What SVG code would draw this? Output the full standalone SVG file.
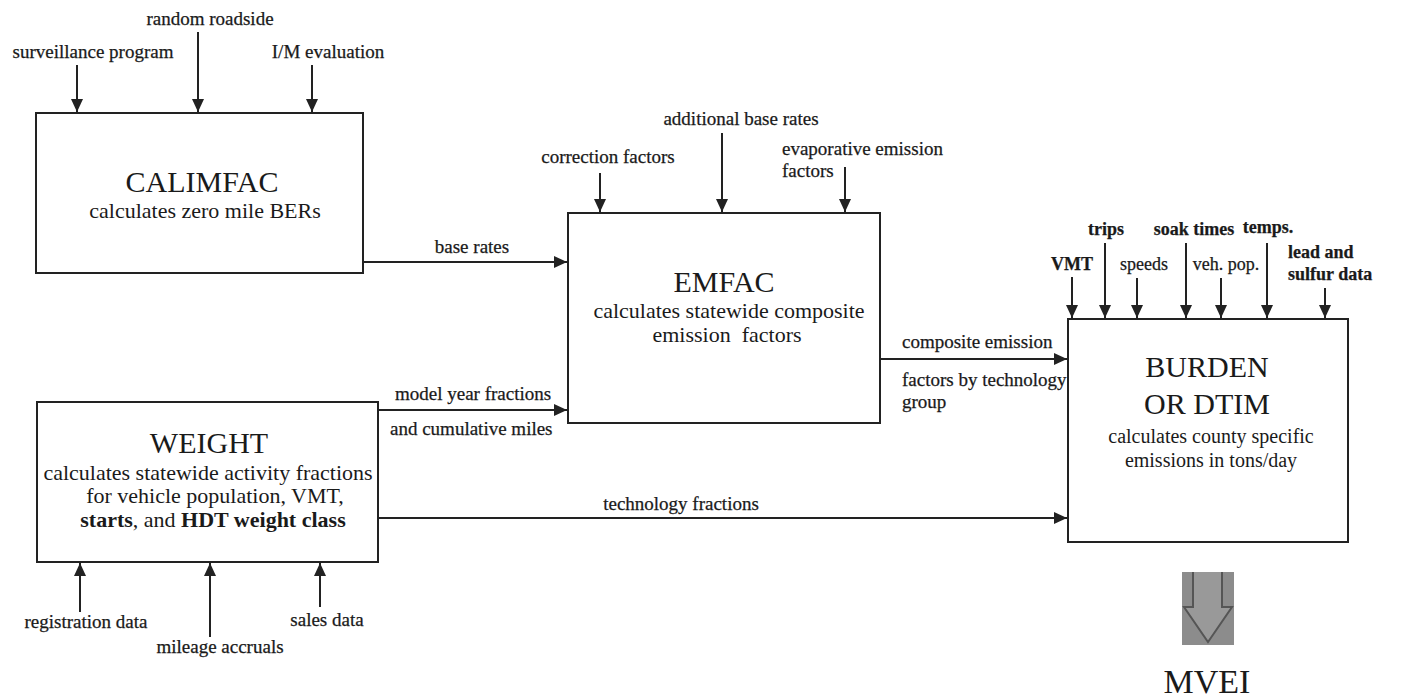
<svg xmlns="http://www.w3.org/2000/svg" width="1426" height="698" viewBox="0 0 1426 698">
<defs>
<marker id="ah" markerUnits="userSpaceOnUse" markerWidth="14" markerHeight="12" refX="13" refY="6" orient="auto">
<path d="M0,0 L13,6 L0,12 Z" fill="#222"/>
</marker>
<style>
.box{fill:#fff;stroke:#222;stroke-width:2}
.c{stroke:#222;stroke-width:2;fill:none;marker-end:url(#ah)}
text{font-family:"Liberation Serif","Times New Roman",serif;fill:#1a1a1a}
.t{font-size:30px;text-anchor:middle}
.s{font-size:22px;text-anchor:middle}
.l{font-size:19px;stroke:#1a1a1a;stroke-width:0.25}
.m{text-anchor:middle}
.sm{font-size:18px;stroke:#1a1a1a;stroke-width:0.25}
.b{font-weight:bold}
</style>
</defs>
<rect width="1426" height="698" fill="#fff"/>

<g id="connectors">
<line class="c" x1="77" y1="65" x2="77" y2="112"/>
<line class="c" x1="198" y1="32" x2="198" y2="112"/>
<line class="c" x1="312" y1="65" x2="312" y2="112"/>
<line class="c" x1="600" y1="173" x2="600" y2="212"/>
<line class="c" x1="722" y1="133" x2="722" y2="212"/>
<line class="c" x1="845" y1="167" x2="845" y2="212"/>
<line class="c" x1="363" y1="262" x2="567" y2="262"/>
<line class="c" x1="378" y1="410" x2="567" y2="410"/>
<line class="c" x1="880" y1="359" x2="1067" y2="359"/>
<line class="c" x1="378" y1="518" x2="1067" y2="518"/>
<line class="c" x1="80" y1="612" x2="80" y2="563"/>
<line class="c" x1="210" y1="637" x2="210" y2="563"/>
<line class="c" x1="320" y1="607" x2="320" y2="563"/>
<line class="c" x1="1072" y1="277" x2="1072" y2="318"/>
<line class="c" x1="1105" y1="243" x2="1105" y2="318"/>
<line class="c" x1="1137" y1="278" x2="1137" y2="318"/>
<line class="c" x1="1186" y1="243" x2="1186" y2="318"/>
<line class="c" x1="1221" y1="278" x2="1221" y2="318"/>
<line class="c" x1="1267" y1="243" x2="1267" y2="318"/>
<line class="c" x1="1325" y1="288" x2="1325" y2="318"/>
</g>

<g id="labels">
<text class="l m" x="93" y="58">surveillance program</text>
<text class="l m" x="210" y="25">random roadside</text>
<text class="l m" x="328" y="58">I/M evaluation</text>
<text class="l m" x="608" y="163">correction factors</text>
<text class="l m" x="741" y="125">additional base rates</text>
<text class="l" x="782" y="155">evaporative emission</text>
<text class="l" x="782" y="177">factors</text>
<text class="l m" x="472" y="253">base rates</text>
<text class="l" x="395" y="400">model year fractions</text>
<text class="l" x="390" y="435">and cumulative miles</text>
<text class="l m" x="681" y="510">technology fractions</text>
<text class="l" x="902" y="348">composite emission</text>
<text class="l" x="902" y="386">factors by technology</text>
<text class="l" x="902" y="408">group</text>
<text class="l m" x="86" y="628">registration data</text>
<text class="l m" x="220" y="653">mileage accruals</text>
<text class="l m" x="327" y="626">sales data</text>
<text class="sm m b" x="1072" y="270">VMT</text>
<text class="sm m b" x="1106" y="235">trips</text>
<text class="sm m" x="1144" y="270">speeds</text>
<text class="sm m b" x="1194" y="235">soak times</text>
<text class="sm m" x="1226" y="270">veh. pop.</text>
<text class="sm m b" x="1268" y="233">temps.</text>
<text class="sm b" x="1288" y="258">lead and</text>
<text class="sm b" x="1288" y="280">sulfur data</text>
</g>

<g id="calimfac">
<rect class="box" x="36" y="113" width="327" height="160"/>
<text class="t" x="202" y="192">CALIMFAC</text>
<text class="s" x="205" y="218">calculates zero mile BERs</text>
</g>

<g id="emfac">
<rect class="box" x="568" y="213" width="312" height="210"/>
<text class="t" x="724" y="292">EMFAC</text>
<text class="s" x="729" y="318">calculates statewide composite</text>
<text class="s" x="727" y="342" xml:space="preserve">emission  factors</text>
</g>

<g id="weight">
<rect class="box" x="37" y="402" width="341" height="160" fill="#fcfcfc"/>
<text class="t" x="209" y="453">WEIGHT</text>
<text class="s" x="208" y="480">calculates statewide activity fractions</text>
<text class="s" x="215" y="503">for vehicle population, VMT,</text>
<text class="s" x="213" y="527"><tspan font-weight="bold">starts</tspan>, and <tspan font-weight="bold">HDT weight class</tspan></text>
</g>

<g id="burden">
<rect class="box" x="1068" y="319" width="280" height="223"/>
<text class="t" x="1207" y="377">BURDEN</text>
<text class="t" x="1207" y="414">OR DTIM</text>
<text class="s" x="1211" y="443" style="font-size:20px">calculates county specific</text>
<text class="s" x="1211" y="467" style="font-size:20px">emissions in tons/day</text>
</g>

<g id="mvei">
<rect x="1182" y="572" width="52" height="73" fill="#8c8c8c"/>
<path d="M1193,572 L1193,607 L1184,607 L1208,642 L1232,607 L1222,607 L1222,572" fill="#999" stroke="#555" stroke-width="2"/>
<text class="t" x="1207" y="693" style="font-size:34px">MVEI</text>
</g>
</svg>
